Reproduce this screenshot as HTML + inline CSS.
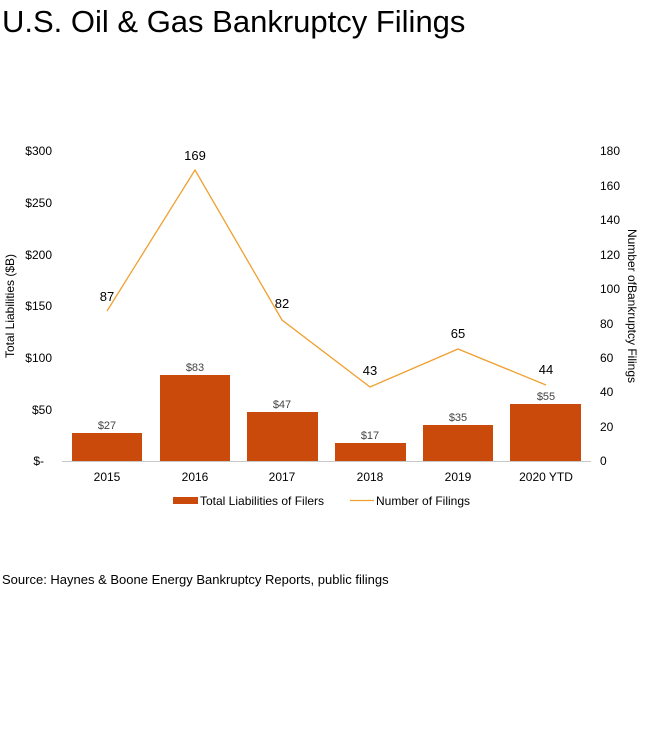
<!DOCTYPE html><html><head><style>body{margin:0;background:#fff}svg{display:block;font-family:"Liberation Sans",Arial,sans-serif}</style></head><body>
<svg width="655" height="739" viewBox="0 0 655 739" xmlns="http://www.w3.org/2000/svg">
<text x="2" y="32" font-size="31" fill="#000">U.S. Oil &amp; Gas Bankruptcy Filings</text>
<g font-size="12" fill="#000" text-anchor="end">
<text x="52" y="155">$300</text><text x="52" y="207">$250</text><text x="52" y="259">$200</text><text x="52" y="310">$150</text><text x="52" y="362">$100</text><text x="52" y="414">$50</text><text x="44" y="465">$-</text>
</g>
<g font-size="12" fill="#000" text-anchor="start">
<text x="600" y="155">180</text><text x="600" y="190">160</text><text x="600" y="224">140</text><text x="600" y="259">120</text><text x="600" y="293">100</text><text x="600" y="328">80</text><text x="600" y="362">60</text><text x="600" y="396">40</text><text x="600" y="431">20</text><text x="600" y="465">0</text>
</g>
<text transform="translate(14,306) rotate(-90)" font-size="12" text-anchor="middle">Total Liabilities ($B)</text>
<text transform="translate(628,306) rotate(90)" font-size="12" text-anchor="middle">Number ofBankruptcy Filings</text>
<g fill="#c94a0a">
<rect x="72" y="433" width="70" height="28"/><rect x="160" y="375" width="70" height="86"/><rect x="247" y="412" width="71" height="49"/><rect x="335" y="443" width="71" height="18"/><rect x="423" y="425" width="70" height="36"/><rect x="510" y="404" width="71" height="57"/>
</g>
<line x1="62" y1="461.5" x2="591" y2="461.5" stroke="#c8c8c8" stroke-width="1"/>
<g font-size="11" fill="#444" text-anchor="middle">
<text x="107" y="429">$27</text><text x="195" y="371">$83</text><text x="282" y="408">$47</text><text x="370" y="439">$17</text><text x="458" y="421">$35</text><text x="546" y="400">$55</text>
</g>
<polyline points="107,311 195,170 282,320 370,387 458,349 546,385" fill="none" stroke="#f0a030" stroke-width="1.3"/>
<g font-size="13" fill="#000" text-anchor="middle">
<text x="107" y="301">87</text><text x="195" y="160">169</text><text x="282" y="308">82</text><text x="370" y="375">43</text><text x="458" y="338">65</text><text x="546" y="374">44</text>
</g>
<g font-size="12" fill="#000" text-anchor="middle">
<text x="107" y="481">2015</text><text x="195" y="481">2016</text><text x="282" y="481">2017</text><text x="370" y="481">2018</text><text x="458" y="481">2019</text><text x="546" y="481">2020 YTD</text>
</g>
<rect x="173" y="497" width="25" height="7" fill="#c94a0a"/>
<text x="200" y="505" font-size="12">Total Liabilities of Filers</text>
<line x1="350" y1="500.5" x2="374" y2="500.5" stroke="#f0a030" stroke-width="1.3"/>
<text x="376" y="505" font-size="12">Number of Filings</text>
<text x="2" y="584" font-size="13">Source: Haynes &amp; Boone Energy Bankruptcy Reports, public filings</text>
</svg></body></html>
